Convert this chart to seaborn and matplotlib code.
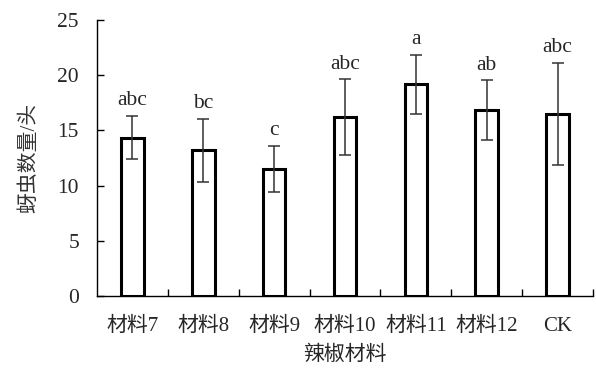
import numpy as np
import pandas as pd
import matplotlib
matplotlib.use("Agg")
import matplotlib.pyplot as plt
import seaborn as sns

categories = ["材料7", "材料8", "材料9", "材料10", "材料11", "材料12", "CK"]
means = [14.35, 13.2, 11.5, 16.2, 19.17, 16.85, 16.5]
sds = [1.95, 2.85, 2.1, 3.45, 2.7, 2.7, 4.65]
letters = ["abc", "bc", "c", "abc", "a", "ab", "abc"]
yticks = [0, 5, 10, 15, 20, 25]

sns.set_theme(style="white")
plt.rcParams["font.family"] = ["Liberation Serif", "Noto Sans CJK SC"]

df = pd.DataFrame({"cat": categories, "val": means})

fig = plt.figure(figsize=(5.96, 3.69), dpi=100)
ax = fig.add_axes([97 / 596, 73 / 369, 496 / 596, 276 / 369])

sns.barplot(data=df, x="cat", y="val", ax=ax, color="white", edgecolor="black",
            linewidth=2.2, width=0.32, errorbar=None, saturation=1)

xs = np.arange(len(categories))
ax.errorbar(xs, means, yerr=sds, fmt="none", ecolor="#333333", elinewidth=1.1,
            capsize=4.3, capthick=1.1)

for x, m, s, t in zip(xs, means, sds, letters):
    ax.annotate(t, (x, m + s), xytext=(0, 4), textcoords="offset points",
                ha="center", va="bottom", fontsize=15.5)

ax.set_xlim(-0.5, len(categories) - 0.5)
ax.set_ylim(0, 25)
ax.set_yticks(yticks)
ax.set_yticklabels([str(v) for v in yticks])
ax.set_xticks(xs)
ax.set_xticklabels(categories)
ax.set_xticks(np.arange(len(categories)) + 0.5, minor=True)

ax.tick_params(axis="x", which="major", length=0, pad=15, labelsize=15)
ax.tick_params(axis="x", which="minor", direction="in", length=5, width=1, color="black", bottom=True)
ax.tick_params(axis="y", which="major", direction="in", length=5, width=1, color="black",
               pad=13, labelsize=15.5, left=True)

for side in ["top", "right"]:
    ax.spines[side].set_visible(False)
for side in ["left", "bottom"]:
    ax.spines[side].set_color("black")
    ax.spines[side].set_linewidth(1)

ax.set_xlabel("辣椒材料", fontsize=15, labelpad=7)
ax.set_ylabel("蚜虫数量/头", fontsize=15, labelpad=13, color="#333333")

fig.savefig("out.png", dpi=100)
